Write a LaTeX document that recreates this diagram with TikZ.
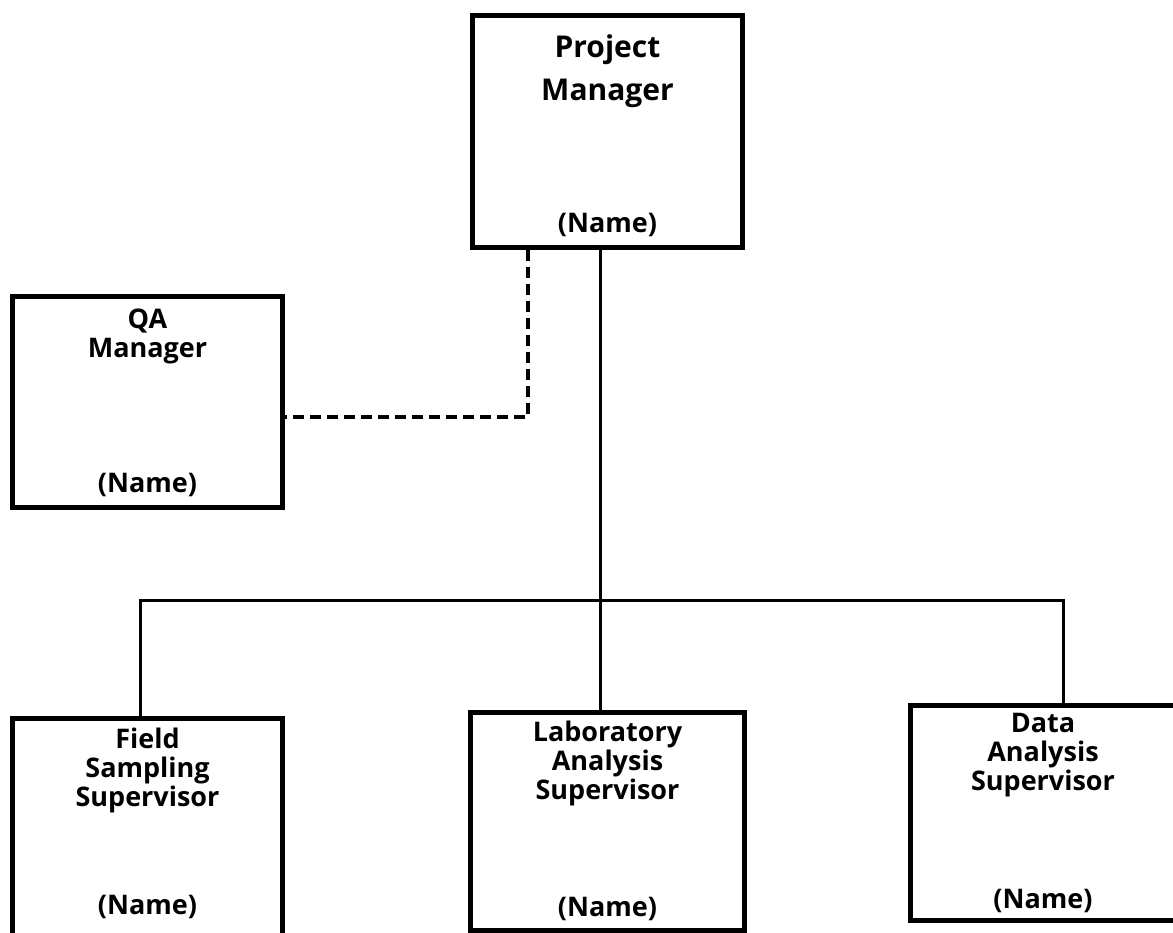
\documentclass[tikz,border=0pt]{standalone}
\usepackage{fontspec}
\setmainfont{Open Sans}
\begin{document}
\begin{tikzpicture}[x=1pt,y=-1pt,
  box/.style={draw=black, line width=5pt, fill=none, inner sep=0pt},
  title/.style={anchor=north, align=center, inner sep=0pt, font=\bfseries\fontsize{27}{29}\selectfont},
  bigtitle/.style={anchor=north, align=center, inner sep=0pt, font=\bfseries\fontsize{30}{43}\selectfont},
  namelbl/.style={anchor=base, inner sep=0pt, font=\bfseries\fontsize{27}{29}\selectfont},
  conn/.style={draw=black, line width=3pt},
  dashconn/.style={draw=black, line width=3.5pt, dash pattern=on 11pt off 6pt}
]
\useasboundingbox (0,0) rectangle (1173,933);
\fill[white] (0,0) rectangle (1173,933);
\clip (0,0) rectangle (1173,933);

% boxes
\node[box, minimum width=270pt, minimum height=232pt] (pm) at (607.5,131.5) {};
\node[box, minimum width=270pt, minimum height=210pt] (qa) at (147.5,402) {};
\node[box, minimum width=270pt, minimum height=232pt] (field) at (147.5,834) {};
\node[box, minimum width=274pt, minimum height=218pt] (lab) at (607.5,821) {};
\node[box, minimum width=266pt, minimum height=215pt] (data) at (1043,812.5) {};

% titles
\node[bigtitle] (pmt) at ([yshift=-22pt]pm.north) {Project\\Manager};
\node[title] (qat) at ([yshift=-14pt]qa.north) {QA\\Manager};
\node[title] (fieldt) at ([yshift=-12pt]field.north) {Field\\Sampling\\Supervisor};
\node[title] (labt) at ([yshift=-11pt]lab.north) {Laboratory\\Analysis\\Supervisor};
\node[title] (datat) at ([yshift=-11pt]data.north) {Data\\Analysis\\Supervisor};

% names
\node[namelbl] (pmn) at ([yshift=17pt]pm.south) {(Name)};
\node[namelbl] (qan) at ([yshift=17pt]qa.south) {(Name)};
\node[namelbl] (fieldn) at (147.5,914) {(Name)};
\node[namelbl] (labn) at ([yshift=16pt]lab.south) {(Name)};
\node[namelbl] (datan) at ([yshift=14pt]data.south) {(Name)};

% connectors
\coordinate (busL) at (140,600);
\coordinate (busM) at (600,600);
\coordinate (busR) at (1063,600);
\draw[conn] (pm.south -| busM) -- (lab.north -| busM);
\draw[conn] (field.north -| busL) -- (busL) -- (busR) -- (data.north -| busR);

\coordinate (qaturn) at (528,417);
\draw[dashconn] (pm.south -| qaturn) -- (qaturn) -- (qa.east |- qaturn);
\end{tikzpicture}
\end{document}
